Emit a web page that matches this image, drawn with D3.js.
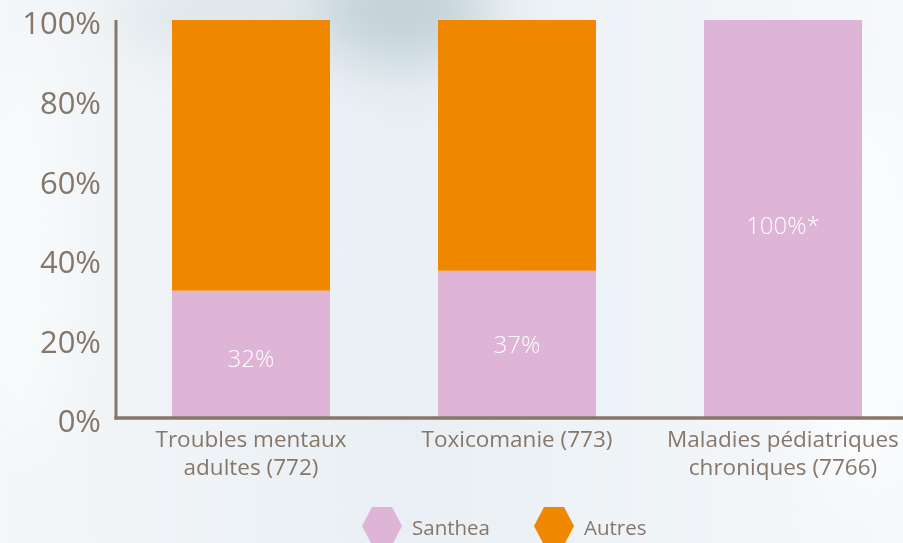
<!DOCTYPE html>
<html><head><meta charset="utf-8">
<script src="https://cdn.jsdelivr.net/npm/d3@7"></script>
<style>html,body{margin:0;padding:0;overflow:hidden;background:#f1f5f8}svg{display:block}</style>
</head><body>
<script>
const categories = [["Troubles mentaux","adultes (772)"],["Toxicomanie (773)"],["Maladies pédiatriques","chroniques (7766)"]];
const santhea = [32, 37, 100];
const autres = [68, 63, 0];
const valueLabels = ["32%", "37%", "100%*"];
const yTicks = [0, 20, 40, 60, 80, 100];
const seriesNames = ["Santhea", "Autres"];
const colors = ["#deb5d6", "#f08700"];

const W = 903, H = 543;
const textColor = "#877769";
const font = "'Open Sans', sans-serif";
const svg = d3.select("body").append("svg").attr("width", W).attr("height", H);
const defs = svg.append("defs");
const bg = defs.append("linearGradient").attr("id","bg").attr("x1",0).attr("y1",0).attr("x2",1).attr("y2",0);
bg.append("stop").attr("offset","0%").attr("stop-color","#f4f7f9");
bg.append("stop").attr("offset","45%").attr("stop-color","#e9eff4");
bg.append("stop").attr("offset","100%").attr("stop-color","#f6f9fb");
defs.append("filter").attr("id","blur").attr("x","-50%").attr("y","-50%").attr("width","200%").attr("height","200%")
  .append("feGaussianBlur").attr("stdDeviation", 28);
svg.append("rect").attr("width",W).attr("height",H).attr("fill","url(#bg)");
const blobs = svg.append("g").attr("filter","url(#blur)");
blobs.append("ellipse").attr("cx",400).attr("cy",10).attr("rx",90).attr("ry",55).attr("fill","#bccdd4").attr("opacity",0.85);
blobs.append("ellipse").attr("cx",220).attr("cy",15).attr("rx",110).attr("ry",35).attr("fill","#d5dfe2").attr("opacity",0.7);
blobs.append("ellipse").attr("cx",860).attr("cy",300).attr("rx",60).attr("ry",200).attr("fill","#fbfdfe").attr("opacity",0.9);
blobs.append("ellipse").attr("cx",20).attr("cy",250).attr("rx",40).attr("ry",200).attr("fill","#fafcfd").attr("opacity",0.9);

const x0 = 116, y0 = 418, yTop = 20;
const x = d3.scaleBand().domain(d3.range(categories.length)).range([118.8, 915.2]).paddingInner(0.406).paddingOuter(0.2);
const y = d3.scaleLinear().domain([0, 100]).range([y0, yTop]);

const stackData = santhea.map((s, i) => ({i, Santhea: s, Autres: autres[i]}));
const stacked = d3.stack().keys(seriesNames)(stackData);
svg.append("g").selectAll("g").data(stacked).join("g").attr("fill", (d, k) => colors[k])
  .selectAll("rect").data(d => d).join("rect")
  .attr("x", d => x(d.data.i)).attr("width", x.bandwidth())
  .attr("y", d => y(d[1])).attr("height", d => y(d[0]) - y(d[1]));

// axes
const yAxis = svg.append("g").attr("transform", `translate(${x0},0)`)
  .call(d3.axisLeft(y).tickValues(yTicks).tickSize(0).tickPadding(15).tickFormat(d => d + "%"));
yAxis.select(".domain").remove();
yAxis.selectAll("text").attr("fill", textColor).attr("font-size", 31).attr("font-family", font).attr("dy", "0.45em");
svg.append("line").attr("x1", x0).attr("x2", x0).attr("y1", yTop).attr("y2", y0 + 1.5).attr("stroke", "#877769").attr("stroke-width", 3);
svg.append("line").attr("x1", x0 - 1.5).attr("x2", W).attr("y1", y0).attr("y2", y0).attr("stroke", "#877769").attr("stroke-width", 3.5);

// value labels
svg.append("g").selectAll("text").data(santhea).join("text")
  .attr("x", (d, i) => x(i) + x.bandwidth()/2)
  .attr("y", (d, i) => (y(0) + y(d)) / 2 + [13, 9, 15][i])
  .attr("text-anchor", "middle").attr("fill", "#ffffff").attr("font-size", 24).attr("font-family", font).attr("font-weight", 300)
  .text((d, i) => valueLabels[i]);

// category labels
const cat = svg.append("g").selectAll("text").data(categories).join("text")
  .attr("x", (d, i) => x(i) + x.bandwidth()/2).attr("y", 447)
  .attr("text-anchor", "middle").attr("fill", textColor).attr("font-size", 22.5).attr("font-family", font);
cat.selectAll("tspan").data(d => d).join("tspan")
  .attr("x", function() { return d3.select(this.parentNode).attr("x"); })
  .attr("dy", (d, j) => j === 0 ? 0 : 28).text(d => d);

// legend
const hex = (cx, cy, w, h) => `M${cx-w/2},${cy} L${cx-w/4},${cy-h/2} L${cx+w/4},${cy-h/2} L${cx+w/2},${cy} L${cx+w/4},${cy+h/2} L${cx-w/4},${cy+h/2} Z`;
const legX = [382, 554];
const leg = svg.append("g").selectAll("g").data(seriesNames).join("g");
leg.append("path").attr("d", (d, k) => hex(legX[k], 526, 40, 38)).attr("fill", (d, k) => colors[k]);
leg.append("text").attr("x", (d, k) => legX[k] + 30).attr("y", 535).attr("fill", textColor)
  .attr("font-size", 20.5).attr("font-family", font).text(d => d);
</script>
</body></html>
